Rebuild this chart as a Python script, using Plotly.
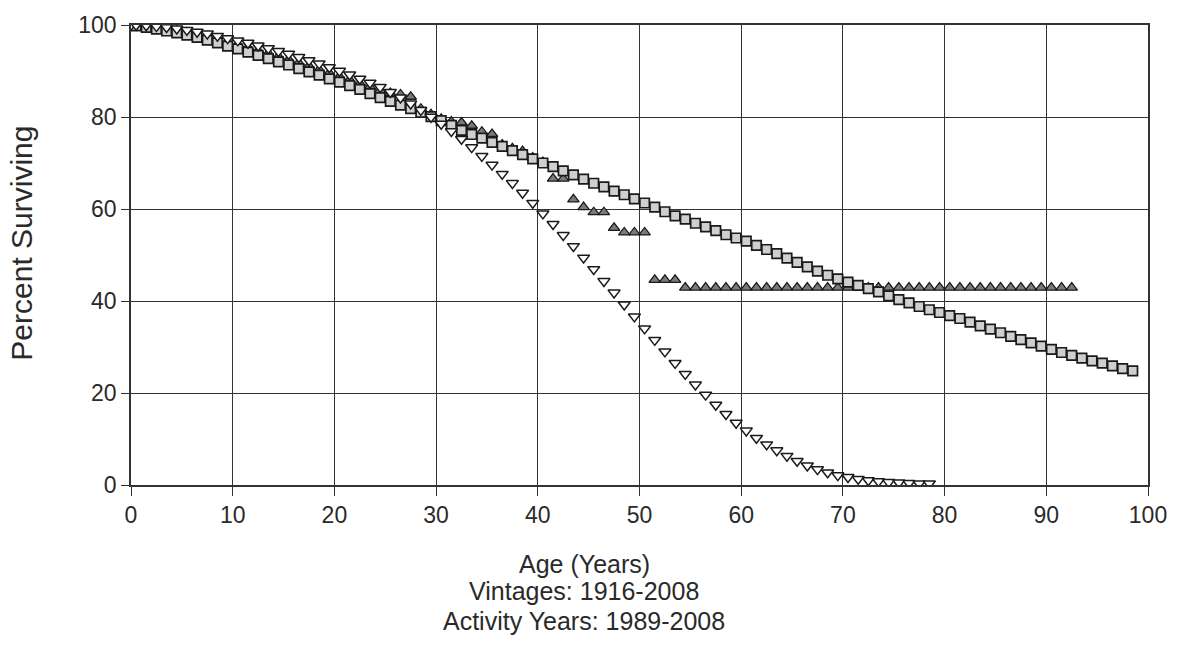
import plotly.graph_objects as go

# Ages (years) at which points are plotted
ages_fit = [0] + [i + 0.5 for i in range(99)]          # 0, 0.5 ... 98.5
ages_obs = [0] + [i + 0.5 for i in range(93)]          # 0, 0.5 ... 92.5
ages_alt = [0] + [i + 0.5 for i in range(79)]          # 0, 0.5 ... 78.5

# Square markers (fitted curve, full range)
pct_square = [
    100.0, 99.8, 99.5, 99.1, 98.7, 98.3, 97.8, 97.3, 96.7, 96.1,
    95.4, 94.8, 94.1, 93.4, 92.7, 92.0, 91.3, 90.5, 89.8, 89.1,
    88.3, 87.6, 86.8, 86.0, 85.1, 84.2, 83.4, 82.6, 81.8, 81.0,
    80.1, 79.2, 78.2, 77.1, 76.2, 75.4, 74.5, 73.6, 72.7, 71.8,
    70.9, 70.0, 69.2, 68.3, 67.4, 66.5, 65.6, 64.8, 63.9, 63.1,
    62.2, 61.3, 60.4, 59.4, 58.5, 57.8, 56.9, 56.1, 55.3, 54.4,
    53.7, 53.0, 52.1, 51.2, 50.3, 49.3, 48.4, 47.4, 46.5, 45.6,
    44.8, 44.1, 43.4, 42.7, 42.0, 41.1, 40.3, 39.6, 38.8, 38.1,
    37.5, 36.8, 36.2, 35.4, 34.6, 33.9, 33.1, 32.3, 31.6, 30.9,
    30.2, 29.5, 28.8, 28.2, 27.6, 27.0, 26.5, 25.9, 25.3, 24.8,
]

# Up-triangle markers (observed)
pct_observed = [
    100.0, 99.9, 99.7, 99.5, 99.2, 98.8, 98.4, 98.0, 97.5, 97.0,
    96.4, 95.8, 95.2, 94.5, 93.9, 93.2, 92.5, 91.8, 91.1, 90.3,
    89.6, 88.8, 88.1, 87.3, 86.6, 85.8, 85.2, 84.9, 84.4, 81.8,
    80.6, 79.6, 79.0, 78.8, 78.1, 76.8, 76.3, 74.0, 73.2, 72.6,
    71.2, 70.2, 66.6, 66.6, 62.1, 60.4, 59.3, 59.3, 55.9, 54.9,
    54.9, 54.9, 44.6, 44.6, 44.6, 42.9, 42.9, 42.9, 42.9, 42.9,
    42.9, 42.9, 42.9, 42.9, 42.9, 42.9, 42.9, 42.9, 42.9, 42.9,
    42.9, 42.9, 42.9, 42.9, 42.9, 42.9, 42.9, 42.9, 42.9, 42.9,
    42.9, 42.9, 42.9, 42.9, 42.9, 42.9, 42.9, 42.9, 42.9, 42.9,
    42.9, 42.9, 42.9, 42.9,
]

# Down-triangle markers (alternative fitted curve)
pct_down = [
    100.0, 100.0, 99.9, 99.7, 99.5, 99.2, 98.9, 98.5, 98.1, 97.6,
    97.1, 96.6, 96.1, 95.5, 94.9, 94.3, 93.7, 93.0, 92.3, 91.6,
    90.8, 90.0, 89.2, 88.3, 87.4, 86.5, 85.4, 84.2, 82.9, 81.5,
    80.0, 78.5, 76.9, 75.2, 73.4, 71.5, 69.6, 67.6, 65.6, 63.5,
    61.3, 59.0, 56.7, 54.3, 51.9, 49.4, 46.9, 44.3, 41.8, 39.2,
    36.6, 34.0, 31.5, 29.0, 26.5, 24.1, 21.8, 19.6, 17.4, 15.4,
    13.5, 11.8, 10.2, 8.8, 7.5, 6.3, 5.2, 4.2, 3.4, 2.7,
    2.1, 1.7, 1.3, 1.0, 0.8, 0.6, 0.5, 0.4, 0.3, 0.3,
]

x_ticks = [0, 10, 20, 30, 40, 50, 60, 70, 80, 90, 100]
y_ticks = [0, 20, 40, 60, 80, 100]
title_lines = ["Age (Years)", "Vintages: 1916-2008", "Activity Years: 1989-2008"]
y_title = "Percent Surviving"

FONT = "Liberation Sans, Arial, sans-serif"
INK = "#2a2a2a"
GRID = "#333333"

fig = go.Figure()
fig.add_trace(go.Scatter(
    x=ages_obs, y=pct_observed, mode="markers",
    marker=dict(symbol="triangle-up", size=10, color="#7a7a7a",
                line=dict(color="#1a1a1a", width=1.3)),
    showlegend=False))
fig.add_trace(go.Scatter(
    x=ages_fit, y=pct_square, mode="markers",
    marker=dict(symbol="square", size=9.5, color="#cfcfcf",
                line=dict(color="#1a1a1a", width=1.7)),
    showlegend=False))
fig.add_trace(go.Scatter(
    x=ages_alt, y=pct_down, mode="markers",
    marker=dict(symbol="triangle-down", size=10.5, color="#ffffff",
                line=dict(color="#1a1a1a", width=1.5)),
    showlegend=False))

L, R, T, B = 131, 32, 18, 161
W, H = 1180, 646
plot_h = H - T - B
plot_w = W - L - R

annotations = []
line_y_px = [565, 593, 623]
for txt, ypx in zip(title_lines, line_y_px):
    annotations.append(dict(
        text=txt, xref="paper", yref="paper",
        x=(584 - L) / plot_w, y=(H - B - ypx) / plot_h,
        xanchor="center", yanchor="middle", showarrow=False,
        font=dict(family=FONT, size=25, color=INK)))
annotations.append(dict(
    text=y_title, xref="paper", yref="paper",
    x=(22 - L) / plot_w, y=(H - B - 240) / plot_h,
    xanchor="center", yanchor="middle", showarrow=False, textangle=-90,
    font=dict(family=FONT, size=30, color=INK)))

fig.update_layout(
    width=W, height=H, autosize=False,
    margin=dict(l=L, r=R, t=T, b=B, pad=0),
    paper_bgcolor="white", plot_bgcolor="white",
    annotations=annotations,
    font=dict(family=FONT, color=INK),
)
fig.update_xaxes(
    range=[0, 100], tickvals=x_ticks, ticktext=[str(v) for v in x_ticks],
    showgrid=True, gridcolor=GRID, gridwidth=1.4,
    showline=True, linecolor=GRID, linewidth=1.6, mirror=True,
    ticks="outside", ticklen=9, tickcolor=GRID, tickwidth=1.3,
    tickfont=dict(family=FONT, size=23, color=INK), zeroline=False)
fig.update_yaxes(
    range=[0, 100], tickvals=y_ticks, ticktext=[str(v) for v in y_ticks],
    showgrid=True, gridcolor=GRID, gridwidth=1.4,
    showline=True, linecolor=GRID, linewidth=1.6, mirror=True,
    ticks="outside", ticklen=8, tickcolor=GRID, tickwidth=1.3,
    tickfont=dict(family=FONT, size=23, color=INK), zeroline=False)

fig.write_html("out.html")
